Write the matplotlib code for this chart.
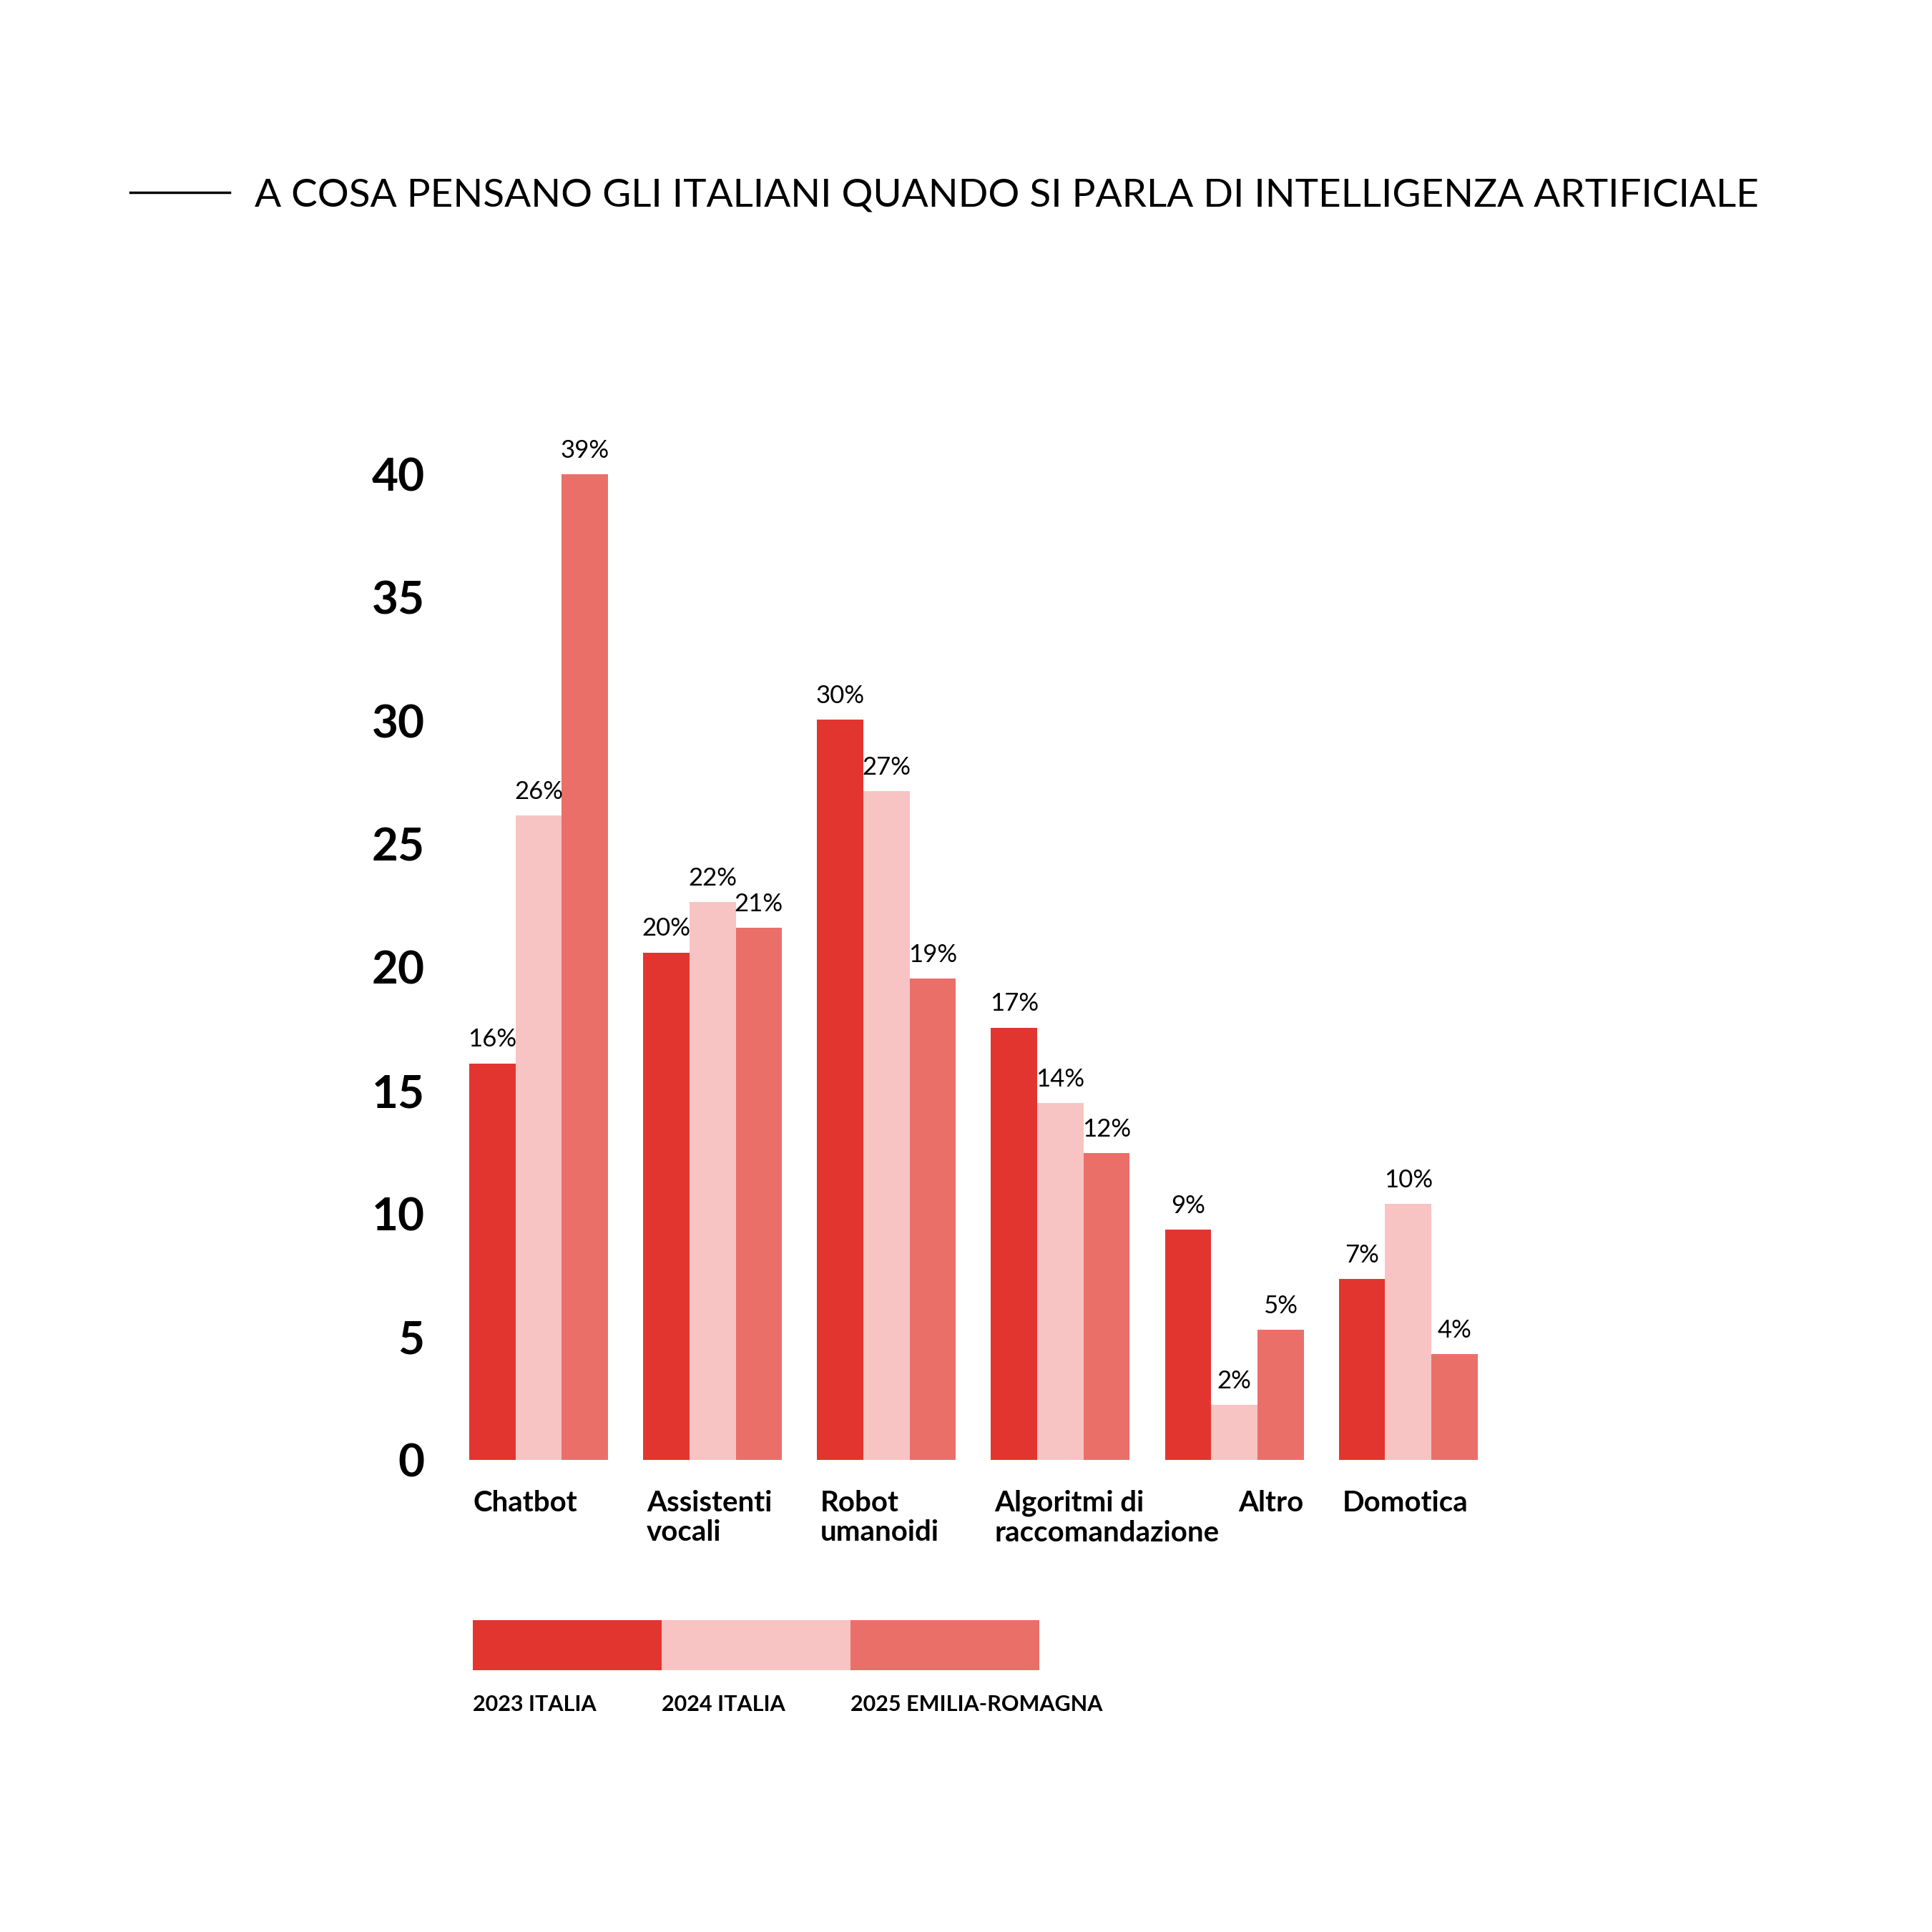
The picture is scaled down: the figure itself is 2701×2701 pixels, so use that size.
import matplotlib
matplotlib.use("Agg")
import matplotlib.pyplot as plt
import numpy as np
from matplotlib.patches import Rectangle

plt.rcParams['font.family'] = ['Lato', 'DejaVu Sans']

categories = ["Chatbot", "Assistenti\nvocali", "Robot\numanoidi", "Algoritmi di\nraccomandazione", "Altro", "Domotica"]
series_names = ["2023 ITALIA", "2024 ITALIA", "2025 EMILIA-ROMAGNA"]
heights = [
    [16.1, 20.6, 30.05, 17.55, 9.35, 7.35],
    [26.15, 22.65, 27.15, 14.5, 2.25, 10.4],
    [40.0, 21.6, 19.55, 12.45, 5.3, 4.3],
]
labels = [
    [16, 20, 30, 17, 9, 7],
    [26, 22, 27, 14, 2, 10],
    [39, 21, 19, 12, 5, 4],
]
colors = ["#E3352F", "#F7C4C3", "#EB6F69"]
yticks = [0, 5, 10, 15, 20, 25, 30, 35, 40]

S = 1556.0
fig = plt.figure(figsize=(27.01, 27.01), dpi=100)
bw = 37.5 / 141
x = np.arange(len(categories))
left = 378 / S; right = 1190 / S
bottom = 1 - 1176 / S; top = 1 - 382 / S
ax = fig.add_axes([left, bottom, right - left, top - bottom])
for s in range(3):
    xs = x + (s - 1) * bw
    ax.bar(xs, heights[s], width=bw, color=colors[s], linewidth=0)
    for xi, h, l in zip(xs, heights[s], labels[s]):
        ax.text(xi, h + 0.5, f"{l}%", ha="center", va="bottom", fontsize=25)
ax.set_xlim(-1.5 * bw, len(categories) - 1 + 1.5 * bw)
ax.set_ylim(0, 40)
for sp in ax.spines.values():
    sp.set_visible(False)
ax.set_xticks([])
ax.set_yticks(yticks)
ax.set_yticklabels([str(t) for t in yticks], fontsize=46, fontweight="bold")
ax.tick_params(axis="y", length=0, pad=45)
for i, c in enumerate(categories):
    if c == "Altro":
        ax.text(i + 1.5 * bw, -1.2, c, ha="right", va="top", fontsize=29,
                fontweight="bold", linespacing=1.15)
    else:
        ax.text(i - 1.5 * bw + 0.02, -1.2, c, ha="left", va="top", fontsize=29,
                fontweight="bold", linespacing=1.15)

# title
fig.add_artist(plt.Line2D([105 / S, 185 / S], [1 - 155 / S] * 2, color="black", lw=2.5))
fig.text(205 / S, 1 - 157 / S, "A COSA PENSANO GLI ITALIANI QUANDO SI PARLA DI INTELLIGENZA ARTIFICIALE",
         ha="left", va="center", fontsize=39.5)

# legend
for i, (n, c) in enumerate(zip(series_names, colors)):
    x0 = (381 + 152 * i) / S
    fig.add_artist(Rectangle((x0, 1 - 1345 / S), 152 / S, 40 / S, transform=fig.transFigure,
                             color=c, lw=0))
    fig.text(x0, 1 - 1373 / S, n, ha="left", va="center", fontsize=22, fontweight="bold")

fig.savefig("out.png", dpi=100, facecolor="white")
